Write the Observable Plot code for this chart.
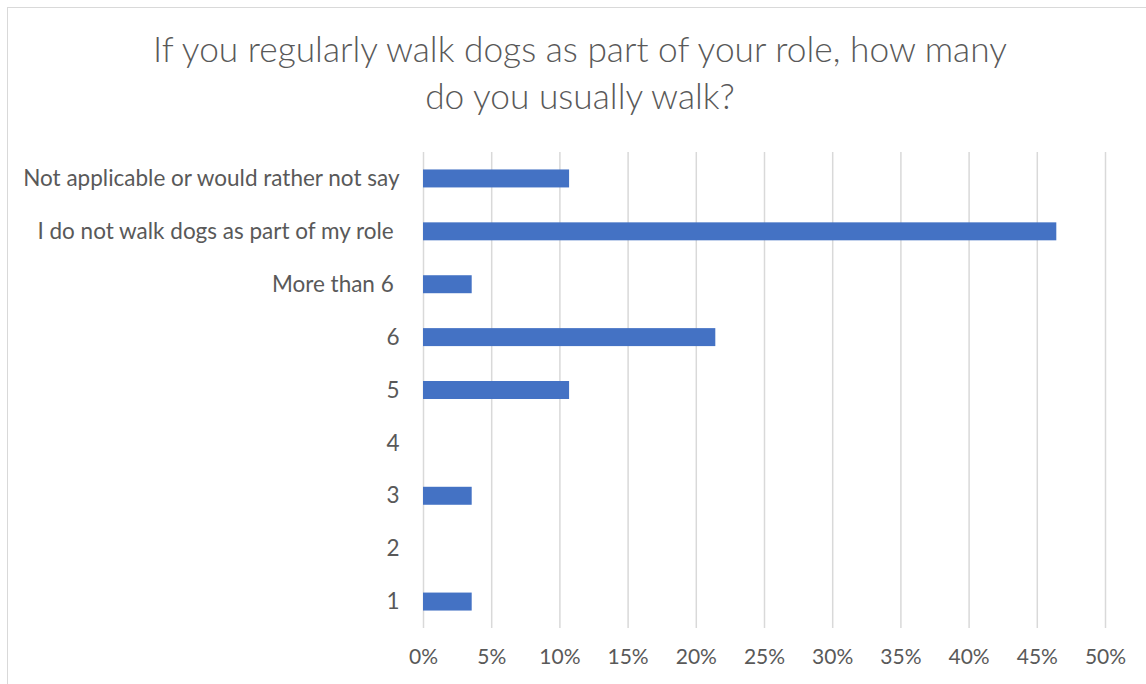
<!DOCTYPE html>
<html>
<head>
<meta charset="utf-8">
<script src="https://cdn.jsdelivr.net/npm/d3@7"></script>
<script src="https://cdn.jsdelivr.net/npm/@observablehq/plot@0.6"></script>
<style>
  html, body { margin: 0; padding: 0; background: #fff; }
  #frame { position: relative; width: 1146px; height: 684px; overflow: hidden; background: #fff; }
  #border { position: absolute; left: 7px; top: 7px; width: 1200px; height: 700px; border-left: 1.5px solid #d9d9d9; border-top: 1.5px solid #d9d9d9; }
  #title { position: absolute; left: 0; top: 25px; width: 1160px; text-align: center; font-family: Lato, "Open Sans", sans-serif; font-weight: 300; font-size: 35.3px; line-height: 47px; color: #595959; }
  #chart { position: absolute; left: 0; top: 140px; line-height: 0; }
  #chart svg { display: block; }
</style>
</head>
<body>
<div id="frame">
  <div id="border"></div>
  <div id="title">If you regularly walk dogs as part of your role, how many<br>do you usually walk?</div>
  <div id="chart"></div>
</div>
<script>
const categories = [
  "Not applicable or would rather not say",
  "I do not walk dogs as part of my role ",
  "More than 6 ",
  "6",
  "5",
  "4",
  "3",
  "2",
  "1"
];
const values = [10.71, 46.43, 3.57, 21.43, 10.71, 0, 3.57, 0, 3.57];
const xTicks = [0, 5, 10, 15, 20, 25, 30, 35, 40, 45, 50];

const data = categories.map((c, i) => ({category: c, value: values[i]}));

const chart = Plot.plot({
  width: 1146,
  height: 544,
  marginLeft: 423,
  marginRight: 41,
  marginTop: 12,
  marginBottom: 56,
  style: {fontFamily: "Lato, 'Open Sans', sans-serif", fontSize: "22px", color: "#595959", background: "transparent"},
  x: {domain: [0, 50], ticks: xTicks, tickFormat: d => d + "%", label: null},
  y: {domain: categories, paddingInner: 0.66, paddingOuter: 0.33, round: false, label: null,
      tickFormat: d => d.replace(/ $/, "\u00a0")},
  marks: [
    Plot.gridX(xTicks, {stroke: "#d9d9d9", strokeOpacity: 1, strokeWidth: 1.5}),
    Plot.barX(data, {x: "value", y: "category", fill: "#4472c4"}),
    Plot.axisX({ticks: xTicks, tickSize: 0, tickPadding: 21, tickFormat: d => d + "%", fill: "#595959", fontSize: 21}),
    Plot.axisY({tickSize: 0, tickPadding: 24, fill: "#595959", fontSize: 22.5, tickFormat: d => d.replace(/ $/, "\u00a0")})
  ]
});
document.getElementById("chart").appendChild(chart);
</script>
</body>
</html>
